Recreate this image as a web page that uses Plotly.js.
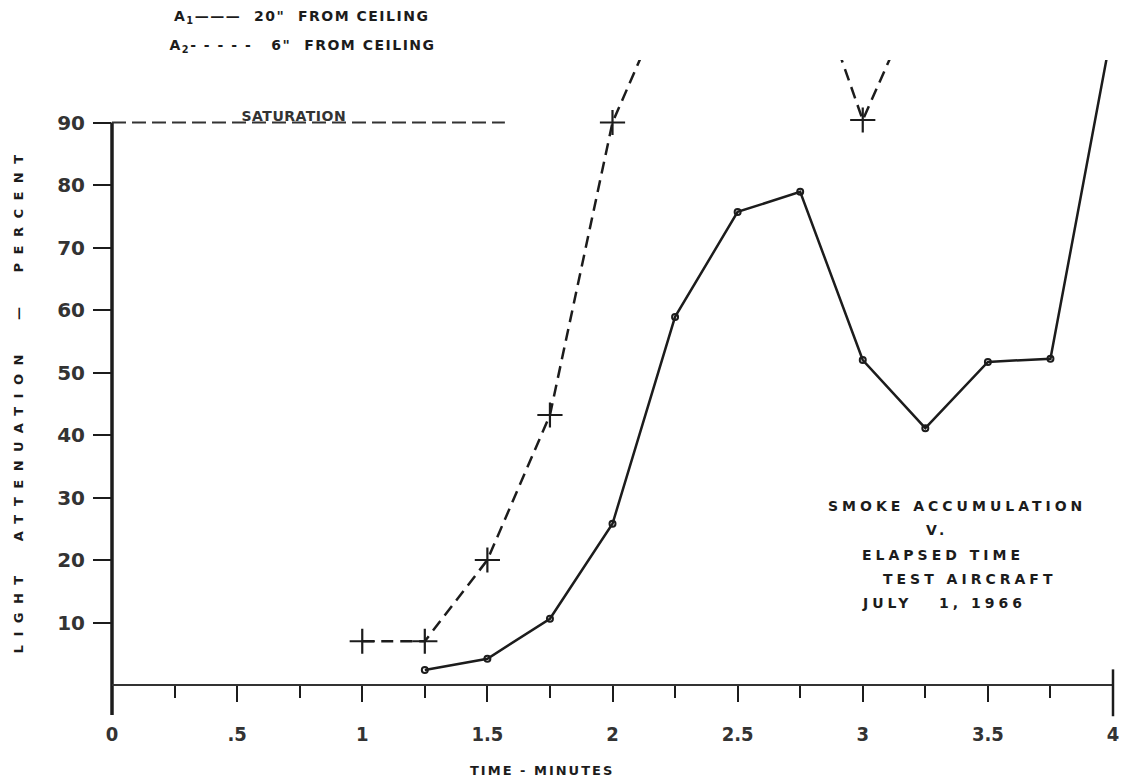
<!DOCTYPE html>
<html><head><meta charset="utf-8">
<script src="https://cdn.plot.ly/plotly-3.0.1.min.js"></script>
<style>
html,body{margin:0;padding:0;background:#fff}
#chart{width:1121px;height:782px}
g.annotation text{letter-spacing:4px}
g.annotation[data-index="0"] text, g.annotation[data-index="1"] text{letter-spacing:1.5px}
g.annotation[data-index="7"] text{letter-spacing:8.5px}
g.annotation[data-index="8"] text{letter-spacing:2px}
g.annotation[data-index="9"] text{letter-spacing:0.5px}
</style></head><body><div id="chart"></div>
<script>
// A1 (20" from ceiling) - solid
const timeA1 = [1.25, 1.5, 1.75, 2.0, 2.25, 2.5, 2.75, 3.0, 3.25, 3.5, 3.75, 4.0];
const attenA1 = [2.4, 4.2, 10.6, 25.8, 58.9, 75.7, 78.9, 52.0, 41.1, 51.7, 52.2, 105.7];
// A2 (6" from ceiling) - dashed
const timeA2 = [1.0, 1.25, 1.5, 1.75, 2.0, 2.25, 2.75, 3.0, 3.25];
const attenA2 = [7.0, 7.0, 20.0, 43.2, 90.0, 113, 119, 90.4, 113];
const xTickVals = [0, 0.5, 1, 1.5, 2, 2.5, 3, 3.5, 4];
const xTickText = ['0', '.5', '1', '1.5', '2', '2.5', '3', '3.5', '4'];
const yTickVals = [10, 20, 30, 40, 50, 60, 70, 80, 90];
const yTickText = ['10', '20', '30', '40', '50', '60', '70', '80', '90'];
const saturationLevel = 90;
const noteLines = ['SMOKE ACCUMULATION', 'V.', 'ELAPSED TIME', 'TEST AIRCRAFT', 'JULY   1, 1966'];

const ink = '#1c1c1c';
const fontMain = 'DejaVu Sans, Liberation Sans, sans-serif';

const traces = [
  {x: timeA1, y: attenA1, mode: 'lines+markers', type: 'scatter',
   line: {color: ink, width: 2.5},
   marker: {symbol: 'circle-open', size: 6, color: ink, line: {width: 2, color: ink}},
   name: 'A1', showlegend: false, hoverinfo: 'skip'},
  {x: timeA2, y: attenA2, mode: 'lines+markers', type: 'scatter',
   line: {color: ink, width: 2.5, dash: '12px,7px'},
   marker: {symbol: 'cross-thin-open', size: 18, color: ink, line: {width: 2.2, color: ink}},
   name: 'A2', showlegend: false, hoverinfo: 'skip'}
];

const notePos = [[3.376, 28.6], [3.296, 24.8], [3.32, 20.8], [3.427, 17.0], [3.325, 13.1]];
const annotations = [
  {xref: 'paper', yref: 'paper', x: 0.078, y: 1.068, xanchor: 'left', yanchor: 'middle', showarrow: false,
   text: 'A<sub>1</sub>———  20"  FROM CEILING', font: {family: fontMain, size: 14, color: ink, weight: 'bold'}},
  {xref: 'paper', yref: 'paper', x: 0.078, y: 1.022, xanchor: 'left', yanchor: 'middle', showarrow: false,
   text: 'A<sub>2</sub>- - - - -   6"  FROM CEILING', font: {family: fontMain, size: 14, color: ink, weight: 'bold'}}
];
noteLines.forEach((t, i) => annotations.push({
  xref: 'x', yref: 'y', x: notePos[i][0], y: notePos[i][1], xanchor: 'center', yanchor: 'middle',
  showarrow: false, text: t, font: {family: fontMain, size: 14, color: ink, weight: 'bold'}
}));
// index 7: y title, index 8: x title
annotations.push({xref: 'paper', yref: 'paper', x: -0.094, y: 0.456, xanchor: 'center', yanchor: 'middle',
  showarrow: false, textangle: -90, text: 'LIGHT  ATTENUATION  —  PERCENT',
  font: {family: fontMain, size: 13, color: ink, weight: 'bold'}});
annotations.push({xref: 'paper', yref: 'paper', x: 0.43, y: -0.136, xanchor: 'center', yanchor: 'middle',
  showarrow: false, text: 'TIME - MINUTES',
  font: {family: fontMain, size: 13, color: ink, weight: 'bold'}});
// index 9: saturation label
annotations.push({xref: 'x', yref: 'y', x: 0.727, y: saturationLevel, xanchor: 'center', yanchor: 'bottom',
  yshift: -3, showarrow: false, text: 'SATURATION',
  font: {family: fontMain, size: 14, color: '#333', weight: 'bold'}});

const shapes = [
  {type: 'line', xref: 'paper', yref: 'paper', x0: 0, x1: 0, y0: -0.048, y1: 0.9, line: {color: ink, width: 3.5}},
  {type: 'line', xref: 'paper', yref: 'paper', x0: 0, x1: 1, y0: 0, y1: 0, line: {color: '#333', width: 2}},
  {type: 'line', xref: 'paper', yref: 'paper', x0: 1, x1: 1, y0: -0.05, y1: 0.025, line: {color: ink, width: 2.5}},
  {type: 'line', xref: 'x', yref: 'y', x0: 0, x1: 1.57, y0: saturationLevel, y1: saturationLevel,
   line: {color: '#333', width: 1.8, dash: '14px,6px'}}
];

const layout = {
  width: 1121, height: 782,
  margin: {l: 112, r: 8, t: 60, b: 97},
  paper_bgcolor: '#fff', plot_bgcolor: '#fff',
  showlegend: false,
  xaxis: {range: [0, 4], tickvals: xTickVals, ticktext: xTickText, ticks: 'outside', ticklen: 16,
    tickwidth: 2, tickcolor: ink, showgrid: false, zeroline: false, showline: false,
    ticklabelstandoff: 15, ticklabeloverflow: 'allow',
    tickfont: {family: 'Liberation Sans Narrow, DejaVu Sans Condensed, DejaVu Sans, sans-serif', size: 20, color: '#333', weight: 'bold'},
    minor: {dtick: 0.25, ticks: 'outside', ticklen: 12, tickwidth: 2, tickcolor: ink, showgrid: false}},
  yaxis: {range: [0, 100], tickvals: yTickVals, ticktext: yTickText, ticks: 'outside', ticklen: 18,
    tickwidth: 2, tickcolor: ink, showgrid: false, zeroline: false, showline: false,
    ticklabelstandoff: 4,
    tickfont: {family: fontMain, size: 20, color: '#333', weight: 'bold'}},
  annotations: annotations,
  shapes: shapes
};

Plotly.newPlot('chart', traces, layout, {staticPlot: true, displayModeBar: false});
</script></body></html>
